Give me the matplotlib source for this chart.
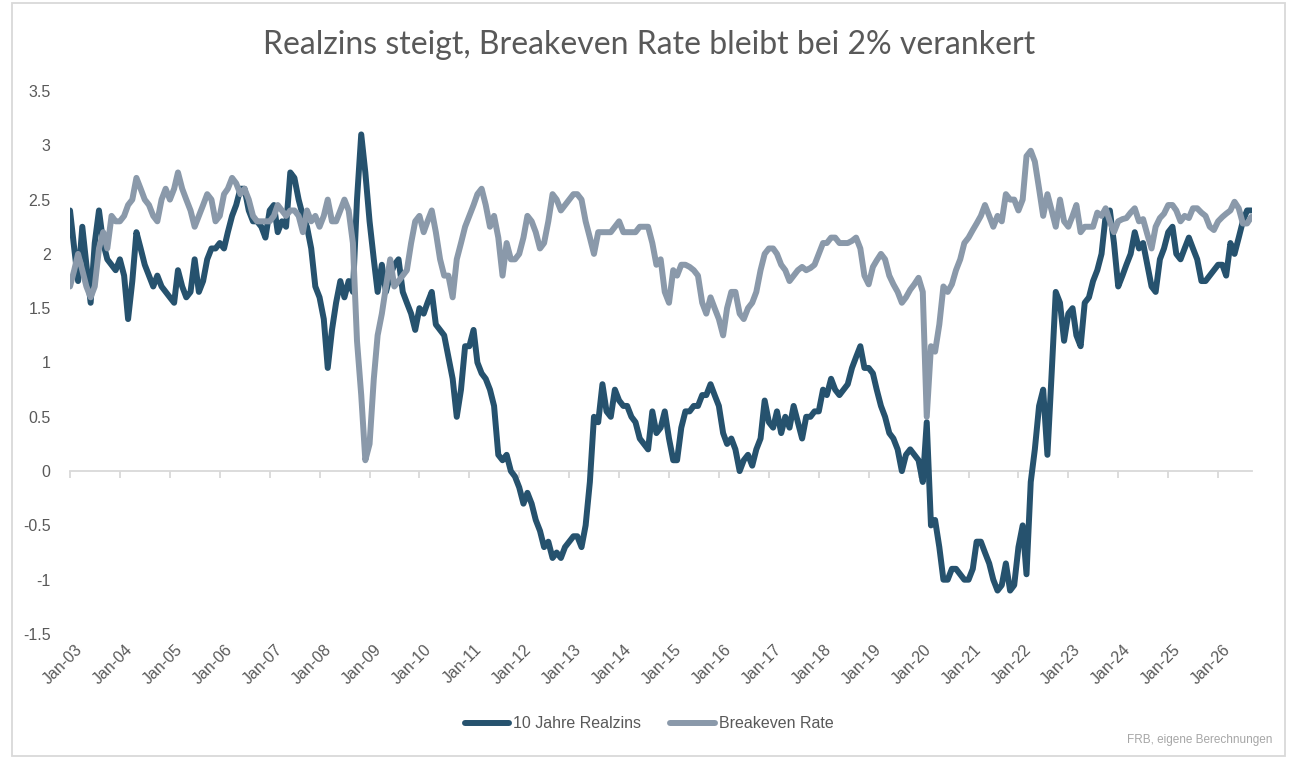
import matplotlib
matplotlib.use("Agg")
import matplotlib.pyplot as plt
import matplotlib.dates as mdates
import matplotlib.transforms as mtransforms
from matplotlib.patches import Rectangle
from matplotlib.ticker import FixedLocator, FuncFormatter
import pandas as pd

plt.rcParams['font.family'] = ['Liberation Sans Narrow', 'Liberation Sans', 'DejaVu Sans']

# monthly readings, Jan 2003 .. Sep 2026
realzins = (
    [2.4, 2.05, 1.75, 2.25, 1.9, 1.55, 2.1, 2.4, 2.1, 1.95, 1.9, 1.85]          # 2003
    + [1.95, 1.8, 1.4, 1.75, 2.2, 2.05, 1.9, 1.8, 1.7, 1.8, 1.7, 1.65]        # 2004
    + [1.6, 1.55, 1.85, 1.7, 1.6, 1.65, 1.95, 1.65, 1.75, 1.95, 2.05, 2.05]   # 2005
    + [2.1, 2.05, 2.2, 2.35, 2.45, 2.6, 2.6, 2.4, 2.3, 2.3, 2.25, 2.15]       # 2006
    + [2.4, 2.45, 2.2, 2.3, 2.25, 2.75, 2.7, 2.5, 2.35, 2.25, 2.05, 1.7]      # 2007
    + [1.6, 1.4, 0.95, 1.3, 1.55, 1.75, 1.6, 1.75, 1.65, 2.5, 3.1, 2.75]      # 2008
    + [2.3, 1.95, 1.65, 1.9, 1.65, 1.8, 1.9, 1.95, 1.65, 1.55, 1.45, 1.3]     # 2009
    + [1.5, 1.45, 1.55, 1.65, 1.35, 1.3, 1.25, 1.05, 0.85, 0.5, 0.75, 1.15]   # 2010
    + [1.15, 1.3, 1.0, 0.9, 0.85, 0.75, 0.6, 0.15, 0.1, 0.15, 0.0, -0.05]     # 2011
    + [-0.15, -0.3, -0.2, -0.3, -0.45, -0.55, -0.7, -0.65, -0.8, -0.75, -0.8, -0.7]  # 2012
    + [-0.65, -0.6, -0.6, -0.7, -0.5, -0.1, 0.5, 0.45, 0.8, 0.55, 0.5, 0.75]  # 2013
    + [0.65, 0.6, 0.6, 0.5, 0.45, 0.3, 0.25, 0.2, 0.55, 0.35, 0.4, 0.55]      # 2014
    + [0.3, 0.1, 0.1, 0.4, 0.55, 0.55, 0.6, 0.6, 0.7, 0.7, 0.8, 0.7]          # 2015
    + [0.6, 0.35, 0.25, 0.3, 0.2, 0.0, 0.1, 0.15, 0.05, 0.2, 0.3, 0.65]       # 2016
    + [0.45, 0.4, 0.55, 0.35, 0.5, 0.4, 0.6, 0.45, 0.3, 0.5, 0.5, 0.55]       # 2017
    + [0.55, 0.75, 0.7, 0.85, 0.75, 0.7, 0.75, 0.8, 0.95, 1.05, 1.15, 0.95]   # 2018
    + [0.95, 0.9, 0.75, 0.6, 0.5, 0.35, 0.3, 0.2, 0.0, 0.15, 0.2, 0.15]       # 2019
    + [0.1, -0.1, 0.45, -0.5, -0.45, -0.7, -1.0, -1.0, -0.9, -0.9, -0.95, -1.0]  # 2020
    + [-1.0, -0.9, -0.65, -0.65, -0.75, -0.85, -1.0, -1.1, -1.05, -0.85, -1.1, -1.05]  # 2021
    + [-0.7, -0.5, -0.95, -0.1, 0.2, 0.6, 0.75, 0.15, 0.9, 1.65, 1.55, 1.2]   # 2022
    + [1.45, 1.5, 1.25, 1.15, 1.55, 1.6, 1.75, 1.85, 2.0, 2.35, 2.4, 2.1]     # 2023
    + [1.7, 1.8, 1.9, 2.0, 2.2, 2.05, 2.1, 1.9, 1.7, 1.65, 1.95, 2.05]        # 2024
    + [2.2, 2.25, 2.0, 1.95, 2.05, 2.15, 2.05, 1.95, 1.75, 1.75, 1.8, 1.85]   # 2025
    + [1.9, 1.9, 1.8, 2.1, 2.0, 2.15, 2.3, 2.4, 2.4]                          # 2026
)

breakeven = (
    [1.7, 1.85, 2.0, 1.85, 1.7, 1.6, 1.7, 2.05, 2.2, 2.05, 2.35, 2.3]         # 2003
    + [2.3, 2.35, 2.45, 2.5, 2.7, 2.6, 2.5, 2.45, 2.35, 2.3, 2.5, 2.6]        # 2004
    + [2.5, 2.6, 2.75, 2.6, 2.5, 2.4, 2.25, 2.35, 2.45, 2.55, 2.5, 2.3]       # 2005
    + [2.35, 2.55, 2.6, 2.7, 2.65, 2.55, 2.6, 2.5, 2.35, 2.3, 2.3, 2.3]       # 2006
    + [2.3, 2.35, 2.45, 2.4, 2.35, 2.4, 2.4, 2.35, 2.2, 2.4, 2.3, 2.35]       # 2007
    + [2.25, 2.35, 2.5, 2.3, 2.3, 2.4, 2.5, 2.4, 2.1, 1.2, 0.7, 0.1]          # 2008
    + [0.25, 0.85, 1.25, 1.45, 1.7, 1.95, 1.7, 1.75, 1.8, 1.85, 2.1, 2.3]     # 2009
    + [2.35, 2.2, 2.3, 2.4, 2.2, 1.95, 1.8, 1.8, 1.6, 1.95, 2.1, 2.25]        # 2010
    + [2.35, 2.45, 2.55, 2.6, 2.45, 2.25, 2.35, 2.15, 1.8, 2.1, 1.95, 1.95]   # 2011
    + [2.0, 2.15, 2.35, 2.3, 2.2, 2.05, 2.1, 2.3, 2.55, 2.5, 2.4, 2.45]       # 2012
    + [2.5, 2.55, 2.55, 2.5, 2.3, 2.15, 2.0, 2.2, 2.2, 2.2, 2.2, 2.25]        # 2013
    + [2.3, 2.2, 2.2, 2.2, 2.2, 2.25, 2.25, 2.25, 2.1, 1.9, 1.95, 1.65]       # 2014
    + [1.55, 1.85, 1.8, 1.9, 1.9, 1.88, 1.85, 1.8, 1.55, 1.45, 1.6, 1.5]      # 2015
    + [1.4, 1.25, 1.5, 1.65, 1.65, 1.45, 1.4, 1.5, 1.55, 1.65, 1.85, 2.0]     # 2016
    + [2.05, 2.05, 2.0, 1.9, 1.85, 1.75, 1.8, 1.85, 1.88, 1.85, 1.87, 1.9]    # 2017
    + [2.0, 2.1, 2.1, 2.15, 2.15, 2.1, 2.1, 2.1, 2.12, 2.15, 2.05, 1.8]       # 2018
    + [1.72, 1.88, 1.94, 2.0, 1.95, 1.8, 1.72, 1.65, 1.55, 1.6, 1.67, 1.72]   # 2019
    + [1.78, 1.65, 0.5, 1.15, 1.1, 1.35, 1.7, 1.65, 1.72, 1.85, 1.95, 2.1]    # 2020
    + [2.15, 2.22, 2.28, 2.35, 2.45, 2.35, 2.25, 2.35, 2.3, 2.55, 2.5, 2.5]   # 2021
    + [2.4, 2.5, 2.9, 2.95, 2.85, 2.6, 2.35, 2.55, 2.4, 2.25, 2.5, 2.3]       # 2022
    + [2.25, 2.35, 2.45, 2.2, 2.25, 2.25, 2.25, 2.38, 2.35, 2.42, 2.3, 2.2]   # 2023
    + [2.3, 2.32, 2.33, 2.38, 2.42, 2.3, 2.32, 2.18, 2.05, 2.25, 2.33, 2.37]  # 2024
    + [2.45, 2.45, 2.4, 2.3, 2.35, 2.33, 2.42, 2.42, 2.38, 2.35, 2.25, 2.22]  # 2025
    + [2.3, 2.34, 2.37, 2.4, 2.48, 2.42, 2.28, 2.28, 2.34]                   # 2026
)

dates = pd.date_range('2003-01-01', periods=len(realzins), freq='MS')
years = pd.date_range('2003-01-01', '2026-01-01', freq='YS')
y_ticks = [-1.5, -1, -0.5, 0, 0.5, 1, 1.5, 2, 2.5, 3, 3.5]

dark = '#26526E'
grey = '#8A99AA'
text_col = '#595959'

W, H = 1298, 764
fig = plt.figure(figsize=(W / 100, H / 100), dpi=100)
ax = fig.add_axes([70 / W, 1 - 634 / H, (1252 - 70) / W, (634 - 91) / H])

ax.plot(dates, realzins, color=dark, lw=4.3, solid_capstyle='round',
        solid_joinstyle='round', label='10 Jahre Realzins', zorder=3)
ax.plot(dates, breakeven, color=grey, lw=4.3, solid_capstyle='round',
        solid_joinstyle='round', label='Breakeven Rate', zorder=4)

ax.set_xlim(dates[0], pd.Timestamp('2026-09-06'))
ax.set_ylim(-1.5, 3.5)

for s in ['top', 'right', 'left']:
    ax.spines[s].set_visible(False)
ax.spines['bottom'].set_position(('data', 0))
ax.spines['bottom'].set_color('#D9D9D9')
ax.spines['bottom'].set_linewidth(1.3)

ax.xaxis.set_major_locator(FixedLocator(mdates.date2num(years)))
ax.tick_params(axis='x', direction='out', length=5, width=1.3, color='#D9D9D9',
               labelbottom=False)
ax.yaxis.set_major_locator(FixedLocator(y_ticks))
ax.yaxis.set_major_formatter(FuncFormatter(lambda v, p: f'{v:g}'))
ax.tick_params(axis='y', length=0, pad=14, labelsize=11.5, labelcolor=text_col)

# date labels below the plot area, Excel "low" position
trans = mtransforms.offset_copy(ax.get_xaxis_transform(), fig=fig,
                                x=10, y=-13, units='dots')
for d in years:
    ax.text(d, 0, d.strftime('%b-%y'), transform=trans, rotation=45,
            rotation_mode='anchor', ha='right', va='center',
            fontsize=11.5, color=text_col)

fig.text(0.5, 1 - 45 / H, 'Realzins steigt, Breakeven Rate bleibt bei 2% verankert',
         ha='center', va='center', fontsize=23, color=text_col,
         family=['Lato', 'DejaVu Sans'])

fig.legend(loc='center', bbox_to_anchor=(0.5, 1 - 724 / H), ncol=2, frameon=False,
           fontsize=11.5, handlelength=2.8, handletextpad=0.25, columnspacing=1.8,
           labelcolor=text_col)

fig.text(1272 / W, 1 - 740 / H, 'FRB, eigene Berechnungen', ha='right', va='center',
         fontsize=8.5, color='#A6A6A6')

fig.patches.append(Rectangle((12 / W, 1 - 756 / H), (1285 - 12) / W, (756 - 3) / H,
                             transform=fig.transFigure, fill=False,
                             edgecolor='#D9D9D9', lw=1.3))

fig.savefig('out.png', dpi=100)
